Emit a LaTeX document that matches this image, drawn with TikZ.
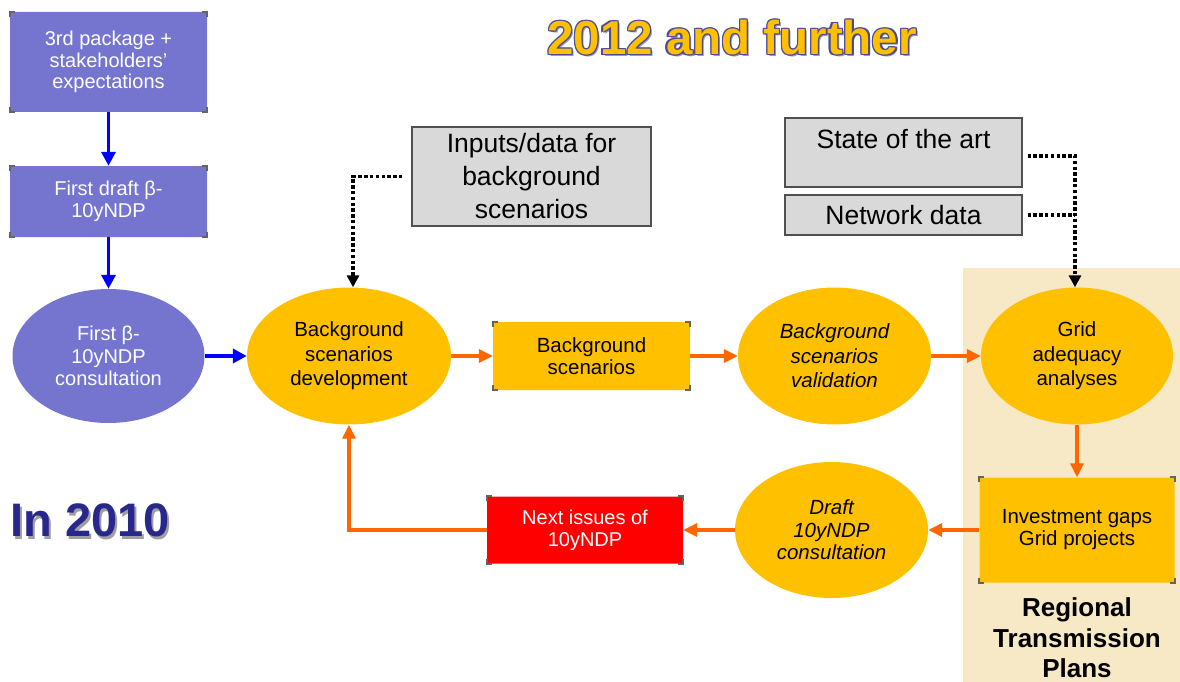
\documentclass[tikz,border=0pt]{standalone}
\usepackage{fontspec}
\setmainfont{Liberation Sans}
\usetikzlibrary{arrows.meta,shapes.geometric,calc}
\definecolor{purp}{RGB}{117,117,208}
\definecolor{gold}{RGB}{255,192,0}
\definecolor{orng}{RGB}{255,102,0}
\definecolor{beige}{RGB}{248,233,198}
\definecolor{lgray}{RGB}{217,217,217}
\definecolor{bordergray}{RGB}{80,80,80}
\definecolor{navy}{RGB}{40,40,140}
\definecolor{titleline}{RGB}{75,75,150}
\definecolor{titleshadow}{RGB}{150,150,200}
\definecolor{cornergray}{RGB}{100,100,100}
\newcommand\outlinedtext[4]{%
  \leavevmode
  \rlap{\kern2pt\raisebox{-2pt}{\color{titleshadow}#4}}%
  \rlap{\kern-#3\color{#1}#4}%
  \rlap{\kern#3\color{#1}#4}%
  \rlap{\raisebox{#3}{\color{#1}#4}}%
  \rlap{\raisebox{-#3}{\color{#1}#4}}%
  \rlap{\kern-#3\raisebox{#3}{\color{#1}#4}}%
  \rlap{\kern#3\raisebox{#3}{\color{#1}#4}}%
  \rlap{\kern-#3\raisebox{-#3}{\color{#1}#4}}%
  \rlap{\kern#3\raisebox{-#3}{\color{#1}#4}}%
  {\color{#2}#4}}
\newcommand\shadowtext[1]{%
  \leavevmode
  \rlap{\kern2pt\raisebox{-2.5pt}{\color{gray!75}#1}}%
  {\color{navy}#1}}
\tikzset{
  purplebox/.style={rectangle, rounded corners=2pt, fill=purp, text=white, align=center,
    font=\fontsize{20}{21.5}\selectfont},
  purpleell/.style={ellipse, fill=purp, text=white, align=center, inner sep=0pt,
    font=\fontsize{20}{22.5}\selectfont},
  goldell/.style={ellipse, fill=gold, text=black, align=center, inner sep=0pt,
    font=\fontsize{20.5}{24.5}\selectfont},
  goldbox/.style={rectangle, rounded corners=2pt, fill=gold, text=black, align=center,
    font=\fontsize{20.5}{22}\selectfont},
  redbox/.style={rectangle, rounded corners=2pt, fill=red, text=white, align=center,
    font=\fontsize{20}{22}\selectfont},
  graybox/.style={rectangle, fill=lgray, draw=bordergray, line width=1.2pt, align=center,
    font=\fontsize{26.5}{33}\selectfont},
  bluearrow/.style={draw=blue, line width=3.6pt, -{Triangle[length=14pt,width=14pt]}},
  orangearrow/.style={draw=orng, line width=3.4pt, -{Triangle[length=14pt,width=13pt]}},
  dotline/.style={draw=black, line width=3.4pt, dash pattern=on 3.4pt off 2.4pt},
  dotarrow/.style={dotline, -{Triangle[length=12pt,width=12pt]}},
  cornermark/.style={draw=cornergray, line width=1.8pt},
}
\newcommand\corners[1]{%
  \draw[cornermark] ([yshift=-5pt]#1.north west) -- (#1.north west) -- ([xshift=5pt]#1.north west);
  \draw[cornermark] ([yshift=-5pt]#1.north east) -- (#1.north east) -- ([xshift=-5pt]#1.north east);
  \draw[cornermark] ([yshift=5pt]#1.south west) -- (#1.south west) -- ([xshift=5pt]#1.south west);
  \draw[cornermark] ([yshift=5pt]#1.south east) -- (#1.south east) -- ([xshift=-5pt]#1.south east);
}
\begin{document}
\begin{tikzpicture}[x=1pt,y=-1pt]
\useasboundingbox (0,0) rectangle (1180,682);
% beige band
\fill[beige] (963,268) rectangle (1180,682);

% titles
\node (title) at (732,38) {\fontsize{47.5}{50}\bfseries\selectfont\outlinedtext{titleline}{gold}{1.2pt}{2012 and further}};
\node[anchor=west] (in2010) at (7,522) {\fontsize{47}{50}\bfseries\selectfont\shadowtext{In 2010}};

% left column (2010)
\node[purplebox, minimum width=197pt, minimum height=100pt] (pkg) at (108.5,62) {3rd package +\\stakeholders'\\expectations};
\node[purplebox, minimum width=197pt, minimum height=71pt] (draftb) at (108.5,201.5) {First draft β-\\10yNDP};
\node[purpleell, minimum width=192pt, minimum height=134pt] (cons) at (108.5,356) {First β-\\10yNDP\\consultation};

% main loop
\node[goldell, minimum width=204pt, minimum height=137pt] (dev) at (349,356) {Background\\scenarios\\development};
\node[goldbox, minimum width=197pt, minimum height=68pt] (bgs) at (591.5,356) {Background\\scenarios};
\node[goldell, minimum width=193pt, minimum height=137pt, font=\fontsize{20.5}{24.5}\itshape\selectfont] (val) at (834.5,356) {Background\\scenarios\\validation};
\node[goldell, minimum width=192pt, minimum height=137pt] (grid) at (1077,356) {Grid\\adequacy\\analyses};
\node[goldbox, minimum width=195pt, minimum height=105pt] (inv) at (1077,530) {Investment gaps\\Grid projects};
\node[goldell, minimum width=193pt, minimum height=136pt, font=\fontsize{20.5}{22.5}\itshape\selectfont] (draft) at (831.5,530) {Draft\\10yNDP\\consultation};
\node[redbox, minimum width=196pt, minimum height=67pt] (next) at (585,530) {Next issues of\\10yNDP};
\node[align=center, font=\fontsize{26}{30.5}\bfseries\selectfont] (rtp) at (1077,638) {Regional\\Transmission\\Plans};

% input boxes
\node[graybox, minimum width=239pt, minimum height=99pt] (inputs) at (531.5,176.5) {Inputs/data for\\background\\scenarios};
\node[graybox, minimum width=237pt, minimum height=69pt] (state) at (903.5,152.5) {};
\node[anchor=base, font=\fontsize{26.5}{33}\selectfont] (statetxt) at (903.5,148) {State of the art};
\node[graybox, minimum width=237pt, minimum height=40pt] (net) at (903.5,215) {Network data};

% corner marks
\corners{pkg}
\corners{draftb}
\corners{bgs}
\corners{inv}
\corners{next}

% connectors
\draw[bluearrow] (pkg.south) -- (draftb.north);
\draw[bluearrow] (draftb.south) -- (cons.north);
\draw[bluearrow] (cons.east) -- (dev.west);
\draw[orangearrow] (dev.east) -- (bgs.west);
\draw[orangearrow] (bgs.east) -- (val.west);
\draw[orangearrow] (val.east) -- (grid.west);
\draw[orangearrow] (grid.south) -- (inv.north);
\draw[orangearrow] (inv.west) -- (draft.east);
\draw[orangearrow] (draft.west) -- (next.east);
\draw[orangearrow] (next.west) -| (dev.south);

\coordinate (inpstart) at ([xshift=-9pt]inputs.west);
\draw[dotarrow] (inpstart) -| ([xshift=4pt]dev.north);
\coordinate (statestart) at ([shift={(5pt,-3.5pt)}]state.east);
\coordinate (netstart) at ([xshift=5pt]net.east);
\draw[dotarrow] (statestart) -| ([xshift=-2pt]grid.north);
\draw[dotline] (netstart) -- ([xshift=-2pt]grid.north |- netstart);
\end{tikzpicture}
\end{document}
